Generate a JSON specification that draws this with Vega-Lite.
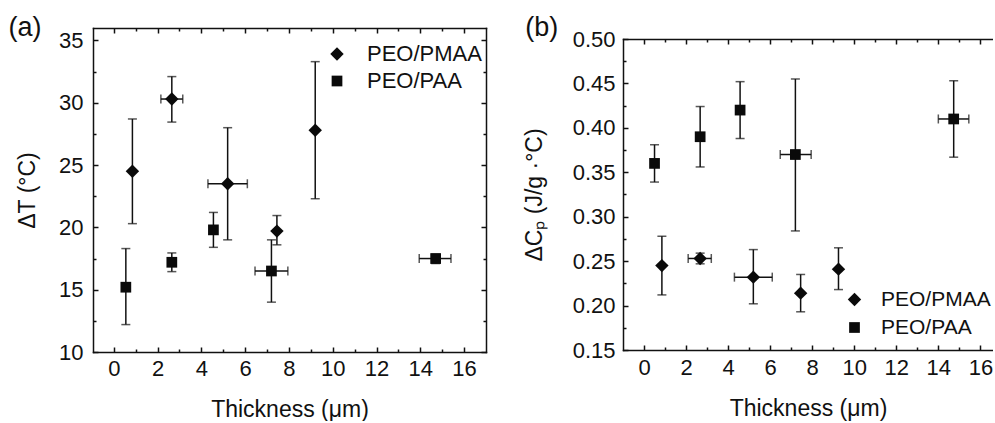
{
  "$schema": "https://vega.github.io/schema/vega-lite/v6.json",
  "padding": {"left": 8, "top": 14, "right": 0, "bottom": 0},
  "background": "white",
  "datasets": {
    "a": [
      {"g": "PEO/PMAA", "x": 0.85, "y": 24.5, "ylo": 20.3, "yhi": 28.7, "xlo": null, "xhi": null},
      {"g": "PEO/PMAA", "x": 2.65, "y": 30.3, "ylo": 28.45, "yhi": 32.1, "xlo": 2.15, "xhi": 3.15},
      {"g": "PEO/PMAA", "x": 5.2, "y": 23.5, "ylo": 19.0, "yhi": 28.0, "xlo": 4.3, "xhi": 6.1},
      {"g": "PEO/PMAA", "x": 7.45, "y": 19.7, "ylo": 18.6, "yhi": 20.95, "xlo": null, "xhi": null},
      {"g": "PEO/PMAA", "x": 9.2, "y": 27.8, "ylo": 22.3, "yhi": 33.3, "xlo": null, "xhi": null},
      {"g": "PEO/PAA", "x": 0.55, "y": 15.2, "ylo": 12.2, "yhi": 18.3, "xlo": null, "xhi": null},
      {"g": "PEO/PAA", "x": 2.65, "y": 17.2, "ylo": 16.45, "yhi": 17.95, "xlo": null, "xhi": null},
      {"g": "PEO/PAA", "x": 4.55, "y": 19.8, "ylo": 18.4, "yhi": 21.2, "xlo": 4.4, "xhi": 4.7},
      {"g": "PEO/PAA", "x": 7.2, "y": 16.5, "ylo": 14.0, "yhi": 19.0, "xlo": 6.45, "xhi": 7.95},
      {"g": "PEO/PAA", "x": 14.7, "y": 17.5, "ylo": 17.1, "yhi": 17.85, "xlo": 13.95, "xhi": 15.4}
    ],
    "b": [
      {"g": "PEO/PMAA", "x": 0.85, "y": 0.245, "ylo": 0.212, "yhi": 0.278, "xlo": null, "xhi": null},
      {"g": "PEO/PMAA", "x": 2.67, "y": 0.253, "ylo": 0.247, "yhi": 0.259, "xlo": 2.1, "xhi": 3.2},
      {"g": "PEO/PMAA", "x": 5.2, "y": 0.232, "ylo": 0.202, "yhi": 0.263, "xlo": 4.3, "xhi": 6.1},
      {"g": "PEO/PMAA", "x": 7.45, "y": 0.214, "ylo": 0.193, "yhi": 0.235, "xlo": null, "xhi": null},
      {"g": "PEO/PMAA", "x": 9.25, "y": 0.241, "ylo": 0.218, "yhi": 0.265, "xlo": null, "xhi": null},
      {"g": "PEO/PAA", "x": 0.5, "y": 0.36, "ylo": 0.339, "yhi": 0.381, "xlo": null, "xhi": null},
      {"g": "PEO/PAA", "x": 2.67, "y": 0.39, "ylo": 0.356, "yhi": 0.424, "xlo": null, "xhi": null},
      {"g": "PEO/PAA", "x": 4.57, "y": 0.42, "ylo": 0.388, "yhi": 0.452, "xlo": 4.45, "xhi": 4.7},
      {"g": "PEO/PAA", "x": 7.2, "y": 0.37, "ylo": 0.284, "yhi": 0.455, "xlo": 6.48, "xhi": 7.95},
      {"g": "PEO/PAA", "x": 14.73, "y": 0.41, "ylo": 0.367, "yhi": 0.453, "xlo": 14.0, "xhi": 15.45}
    ]
  },
  "spacing": 36,
  "resolve": {"scale": {"shape": "independent", "size": "independent"}, "legend": {"shape": "independent", "size": "independent"}},
  "hconcat": [
    {
      "width": 393,
      "height": 324,
      "data": {"name": "a"},
      "title": {"text": "(a)", "anchor": "start", "frame": "bounds", "fontSize": 27, "fontWeight": "normal", "font": "Liberation Sans", "color": "#111", "offset": -15, "dx": -8},
      "resolve": {"axis": {"x": "independent", "y": "independent"}},
      "layer": [
        {
          "mark": {"type": "rule", "color": "#111", "strokeWidth": 1.5},
          "encoding": {
            "x": {"field": "x", "type": "quantitative", "scale": {"domain": [-0.95, 17], "nice": false, "zero": false},
              "axis": {"orient": "bottom", "domain": true, "values": [0, 2, 4, 6, 8, 10, 12, 14, 16], "tickSize": -5, "labelPadding": 11, "title": "Thickness (μm)", "titlePadding": 19, "labelFlush": false}},
            "y": {"field": "ylo", "type": "quantitative", "scale": {"domain": [10, 36], "nice": false, "zero": false},
              "axis": {"orient": "left", "domain": true, "values": [10, 15, 20, 25, 30, 35], "tickSize": -5, "labelPadding": 15, "title": "ΔT (°C)", "titlePadding": 19}},
            "y2": {"field": "yhi"}
          }
        },
        {
          "transform": [{"filter": "isValid(datum.xlo)"}],
          "mark": {"type": "rule", "color": "#111", "strokeWidth": 1.5},
          "encoding": {
            "x": {"field": "xlo", "type": "quantitative", "scale": {"domain": [-0.95, 17], "nice": false, "zero": false},
              "axis": {"orient": "bottom", "values": [1, 3, 5, 7, 9, 11, 13, 15], "tickSize": -3, "labels": false, "title": null}},
            "x2": {"field": "xhi"},
            "y": {"field": "y", "type": "quantitative", "scale": {"domain": [10, 36], "nice": false, "zero": false},
              "axis": {"orient": "left", "values": [12.5, 17.5, 22.5, 27.5, 32.5], "tickSize": -3, "labels": false, "title": null}}
          }
        },
        {
          "mark": {"type": "tick", "orient": "horizontal", "color": "#111", "thickness": 1.5, "size": 9},
          "encoding": {
            "x": {"field": "x", "type": "quantitative", "scale": {"domain": [-0.95, 17], "nice": false, "zero": false},
              "axis": {"orient": "top", "domain": true, "values": [0, 2, 4, 6, 8, 10, 12, 14, 16], "tickSize": -5, "labels": false, "title": null}},
            "y": {"field": "ylo", "type": "quantitative", "scale": {"domain": [10, 36], "nice": false, "zero": false},
              "axis": {"orient": "right", "domain": true, "values": [10, 15, 20, 25, 30, 35], "tickSize": -5, "labels": false, "title": null}}
          }
        },
        {
          "mark": {"type": "tick", "orient": "horizontal", "color": "#111", "thickness": 1.5, "size": 9},
          "encoding": {
            "x": {"field": "x", "type": "quantitative", "scale": {"domain": [-0.95, 17], "nice": false, "zero": false},
              "axis": {"orient": "top", "values": [1, 3, 5, 7, 9, 11, 13, 15], "tickSize": -3, "labels": false, "title": null}},
            "y": {"field": "yhi", "type": "quantitative", "scale": {"domain": [10, 36], "nice": false, "zero": false},
              "axis": {"orient": "right", "values": [12.5, 17.5, 22.5, 27.5, 32.5], "tickSize": -3, "labels": false, "title": null}}
          }
        },
        {
          "transform": [{"filter": "isValid(datum.xlo)"}],
          "mark": {"type": "tick", "orient": "vertical", "color": "#111", "thickness": 1.5, "size": 9},
          "encoding": {
            "x": {"field": "xlo", "type": "quantitative", "axis": null},
            "y": {"field": "y", "type": "quantitative", "axis": null}
          }
        },
        {
          "transform": [{"filter": "isValid(datum.xhi)"}],
          "mark": {"type": "tick", "orient": "vertical", "color": "#111", "thickness": 1.5, "size": 9},
          "encoding": {
            "x": {"field": "xhi", "type": "quantitative", "axis": null},
            "y": {"field": "y", "type": "quantitative", "axis": null}
          }
        },
        {
          "mark": {"type": "point", "filled": true, "color": "#0a0a0a", "opacity": 1},
          "encoding": {
            "x": {"field": "x", "type": "quantitative", "axis": null},
            "y": {"field": "y", "type": "quantitative", "axis": null},
            "shape": {"field": "g", "type": "nominal", "scale": {"domain": ["PEO/PMAA", "PEO/PAA"], "range": ["diamond", "square"]},
              "legend": {"orient": "none", "legendX": 233, "legendY": 15, "title": null, "labelFontSize": 22, "labelFont": "Liberation Sans", "labelColor": "#111", "labelOffset": 19, "rowPadding": 5, "padding": 0}},
            "size": {"field": "g", "type": "nominal", "scale": {"domain": ["PEO/PMAA", "PEO/PAA"], "range": [180, 115]},
              "legend": {"orient": "none", "legendX": 233, "legendY": 15, "title": null, "labelFontSize": 22, "labelFont": "Liberation Sans", "labelColor": "#111", "labelOffset": 19, "rowPadding": 5, "padding": 0}}
          }
        }
      ]
    },
    {
      "width": 370,
      "height": 322,
      "data": {"name": "b"},
      "title": {"text": "(b)", "anchor": "start", "frame": "bounds", "fontSize": 27, "fontWeight": "normal", "font": "Liberation Sans", "color": "#111", "offset": -14, "dx": 2},
      "resolve": {"axis": {"x": "independent", "y": "independent"}},
      "layer": [
        {
          "mark": {"type": "rule", "color": "#111", "strokeWidth": 1.5},
          "encoding": {
            "x": {"field": "x", "type": "quantitative", "scale": {"domain": [-1, 16.6], "nice": false, "zero": false},
              "axis": {"orient": "bottom", "domain": true, "values": [0, 2, 4, 6, 8, 10, 12, 14, 16], "tickSize": -5, "labelPadding": 12, "title": "Thickness (μm)", "titlePadding": 19, "labelFlush": false}},
            "y": {"field": "ylo", "type": "quantitative", "scale": {"domain": [0.15, 0.5], "range": [322, 11], "nice": false, "zero": false},
              "axis": {"orient": "left", "domain": true, "values": [0.15, 0.2, 0.25, 0.3, 0.35, 0.4, 0.45, 0.5], "format": ".2f", "tickSize": -5, "labelPadding": 13, "title": "ΔCₚ (J/g ·°C)", "titlePadding": 26}},
            "y2": {"field": "yhi"}
          }
        },
        {
          "transform": [{"filter": "isValid(datum.xlo)"}],
          "mark": {"type": "rule", "color": "#111", "strokeWidth": 1.5},
          "encoding": {
            "x": {"field": "xlo", "type": "quantitative", "scale": {"domain": [-1, 16.6], "nice": false, "zero": false},
              "axis": {"orient": "bottom", "values": [1, 3, 5, 7, 9, 11, 13, 15], "tickSize": -3, "labels": false, "title": null}},
            "x2": {"field": "xhi"},
            "y": {"field": "y", "type": "quantitative", "scale": {"domain": [0.15, 0.5], "range": [322, 11], "nice": false, "zero": false},
              "axis": {"orient": "left", "values": [0.175, 0.225, 0.275, 0.325, 0.375, 0.425, 0.475], "tickSize": -3, "labels": false, "title": null}}
          }
        },
        {
          "mark": {"type": "tick", "orient": "horizontal", "color": "#111", "thickness": 1.5, "size": 9},
          "encoding": {
            "x": {"field": "x", "type": "quantitative", "scale": {"domain": [-1, 16.6], "nice": false, "zero": false},
              "axis": {"orient": "top", "domain": true, "offset": -11, "values": [0, 2, 4, 6, 8, 10, 12, 14, 16], "tickSize": -5, "labels": false, "title": null}},
            "y": {"field": "ylo", "type": "quantitative", "scale": {"domain": [0.15, 0.5], "range": [322, 11], "nice": false, "zero": false}, "axis": null}
          }
        },
        {
          "mark": {"type": "tick", "orient": "horizontal", "color": "#111", "thickness": 1.5, "size": 9},
          "encoding": {
            "x": {"field": "x", "type": "quantitative", "scale": {"domain": [-1, 16.6], "nice": false, "zero": false},
              "axis": {"orient": "top", "offset": -11, "values": [1, 3, 5, 7, 9, 11, 13, 15], "tickSize": -3, "labels": false, "title": null}},
            "y": {"field": "yhi", "type": "quantitative", "scale": {"domain": [0.15, 0.5], "range": [322, 11], "nice": false, "zero": false}, "axis": null}
          }
        },
        {
          "transform": [{"filter": "isValid(datum.xlo)"}],
          "mark": {"type": "tick", "orient": "vertical", "color": "#111", "thickness": 1.5, "size": 9},
          "encoding": {
            "x": {"field": "xlo", "type": "quantitative", "axis": null},
            "y": {"field": "y", "type": "quantitative", "axis": null}
          }
        },
        {
          "transform": [{"filter": "isValid(datum.xhi)"}],
          "mark": {"type": "tick", "orient": "vertical", "color": "#111", "thickness": 1.5, "size": 9},
          "encoding": {
            "x": {"field": "xhi", "type": "quantitative", "axis": null},
            "y": {"field": "y", "type": "quantitative", "axis": null}
          }
        },
        {
          "mark": {"type": "point", "filled": true, "color": "#0a0a0a", "opacity": 1},
          "encoding": {
            "x": {"field": "x", "type": "quantitative", "axis": null},
            "y": {"field": "y", "type": "quantitative", "axis": null},
            "shape": {"field": "g", "type": "nominal", "scale": {"domain": ["PEO/PMAA", "PEO/PAA"], "range": ["diamond", "square"]},
              "legend": {"orient": "none", "legendX": 221, "legendY": 261, "title": null, "labelFontSize": 21, "labelFont": "Liberation Sans", "labelColor": "#111", "labelOffset": 16, "rowPadding": 6, "padding": 0}},
            "size": {"field": "g", "type": "nominal", "scale": {"domain": ["PEO/PMAA", "PEO/PAA"], "range": [180, 115]},
              "legend": {"orient": "none", "legendX": 221, "legendY": 261, "title": null, "labelFontSize": 21, "labelFont": "Liberation Sans", "labelColor": "#111", "labelOffset": 16, "rowPadding": 6, "padding": 0}}
          }
        }
      ]
    }
  ],
  "config": {
    "font": "Liberation Sans",
    "view": {"stroke": null},
    "axis": {"domain": false, "domainColor": "#111", "domainWidth": 1.5, "domainCap": "square", "grid": false, "labelFont": "Liberation Sans", "titleFont": "Liberation Sans", "labelFontSize": 22, "titleFontSize": 23, "titleFontWeight": "normal", "labelColor": "#111", "titleColor": "#111", "tickColor": "#111", "tickWidth": 1.5}
  }
}
